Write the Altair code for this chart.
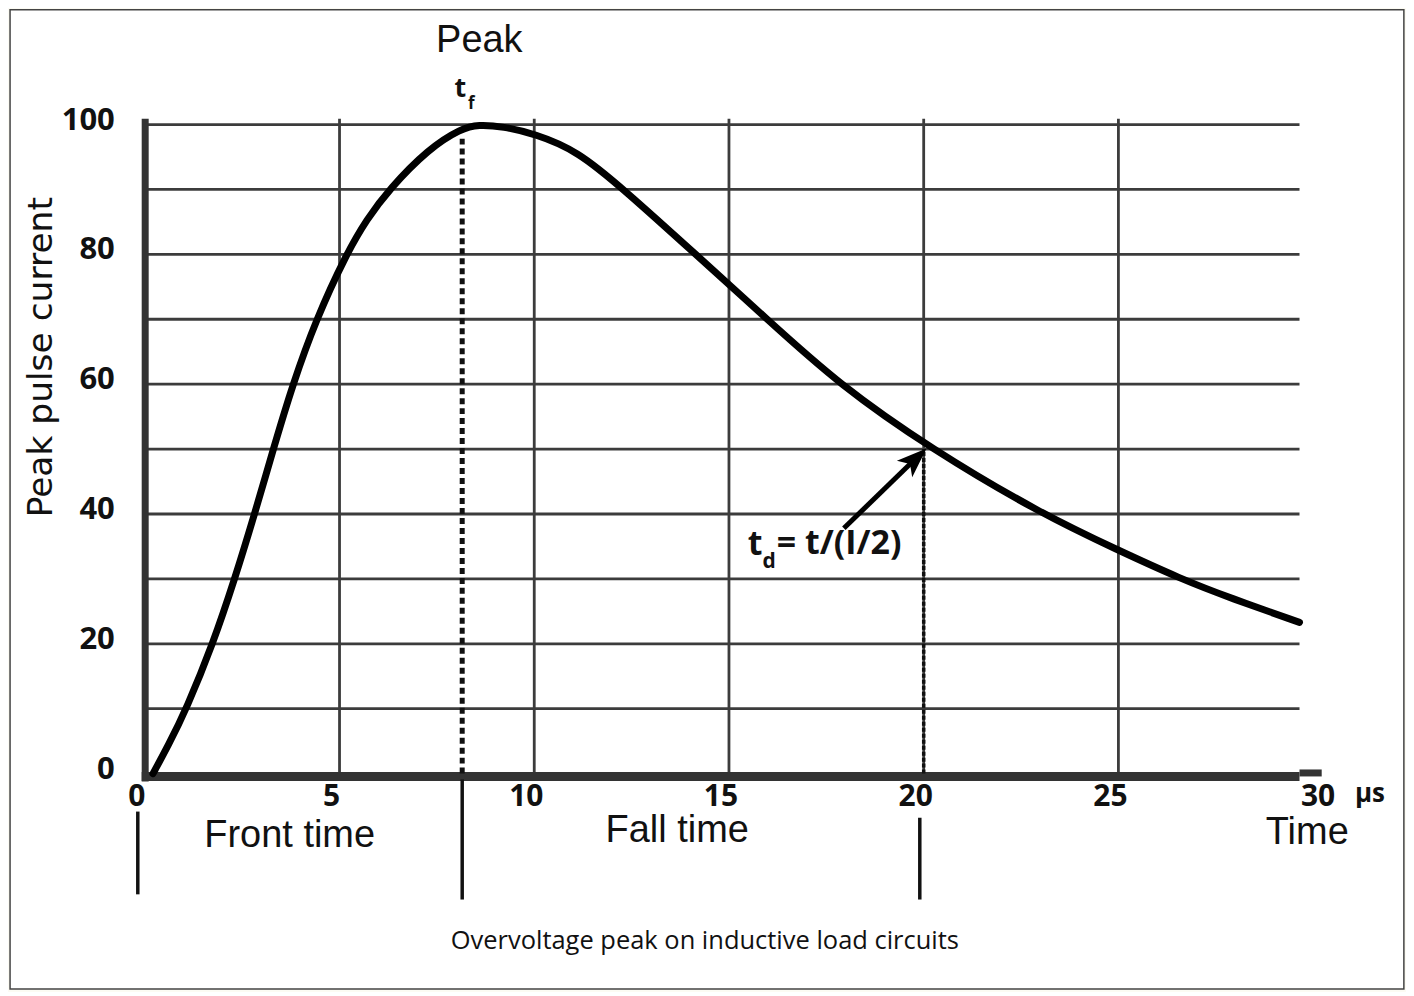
import altair as alt
import pandas as pd

# ---------------- data ----------------
curve_t = [0.21, 0.6, 1.07, 1.75, 2.31, 2.82, 3.3, 3.8, 4.4, 5.17, 5.7, 6.27, 7.29,
           8.13, 8.56, 9.2, 10.0, 11.1, 12.3, 14.15, 15.98, 17.82, 20.2, 23.03,
           25.0, 26.6, 27.9, 29.65]
curve_v = [0.0, 4.3, 10.0, 20.0, 30.0, 40.0, 50.0, 60.0, 70.0, 80.0, 85.4, 90.0, 96.3,
           99.4, 100.0, 99.7, 98.6, 96.0, 90.0, 80.0, 70.0, 60.0, 50.0, 40.0,
           34.4, 30.0, 27.0, 23.3]

y_tick_values = [0, 20, 40, 60, 80, 100]
x_tick_values = [0, 5, 10, 15, 20, 25]
x_last_tick = [30]
grid_y_values = [10, 20, 30, 40, 50, 60, 70, 80, 90, 100]
grid_x_values = [5, 10, 15, 20, 25]

peak_time = 8.15      # t_f marker
decay_time = 20.0     # t_d marker
decay_level = 50.0

section_labels = ["Front time", "Fall time", "Time"]
caption = "Overvoltage peak on inductive load circuits"
y_title = "Peak pulse current"

# ---------------- layout ----------------
W, H = 1170, 650
T_END = 29.65
xs = alt.Scale(domain=[0, 30], nice=False, zero=False)
ys = alt.Scale(domain=[0, 100], nice=False, zero=False)
X = lambda f="t": alt.X(f"{f}:Q", scale=xs, axis=None)
Y = lambda f="v": alt.Y(f"{f}:Q", scale=ys, axis=None)

GRID = "#3c3c3c"
INK = "#111111"
LBL_FONT = "Open Sans"
ANN_FONT = "Liberation Sans"

layers = []

# frame
frame = pd.DataFrame({"t": [-3.46], "t2": [32.33], "v": [117.7], "v2": [-33.2]})
layers.append(alt.Chart(frame).mark_rect(fill="white", stroke="#444", strokeWidth=1.5)
              .encode(x=X(), x2="t2:Q", y=Y(), y2="v2:Q"))

# horizontal grid
gy = pd.DataFrame({"v": grid_y_values, "t": [0] * len(grid_y_values), "t2": [T_END] * len(grid_y_values)})
layers.append(alt.Chart(gy).mark_rule(color=GRID, strokeWidth=2.8)
              .encode(x=X(), x2="t2:Q", y=Y()))

# vertical grid
gx = pd.DataFrame({"t": grid_x_values, "v": [0] * len(grid_x_values), "v2": [100.9] * len(grid_x_values)})
layers.append(alt.Chart(gx).mark_rule(color=GRID, strokeWidth=2.8)
              .encode(x=X(), y=Y(), y2="v2:Q"))

# axis lines
yaxis = pd.DataFrame({"t": [0.01], "v": [-1.2], "v2": [100.9]})
layers.append(alt.Chart(yaxis).mark_rule(color="#333", strokeWidth=7)
              .encode(x=X(), y=Y(), y2="v2:Q"))
xaxis = pd.DataFrame({"t": [-0.08], "t2": [T_END], "v": [-0.45]})
layers.append(alt.Chart(xaxis).mark_rule(color="#333", strokeWidth=9)
              .encode(x=X(), x2="t2:Q", y=Y()))
xstub = pd.DataFrame({"t": [T_END], "t2": [30.22], "v": [0.1]})
layers.append(alt.Chart(xstub).mark_rule(color="#333", strokeWidth=7)
              .encode(x=X(), x2="t2:Q", y=Y()))

# dashed markers
pk = pd.DataFrame({"t": [peak_time], "v": [0], "v2": [97.8]})
layers.append(alt.Chart(pk).mark_rule(color=INK, strokeWidth=5, strokeDash=[6, 4])
              .encode(x=X(), y=Y(), y2="v2:Q"))
td = pd.DataFrame({"t": [decay_time], "v": [0], "v2": [decay_level]})
layers.append(alt.Chart(td).mark_rule(color=INK, strokeWidth=3.5, strokeDash=[4, 2])
              .encode(x=X(), y=Y(), y2="v2:Q"))

# marker lines below the axis
mk = pd.DataFrame({"t": [-0.18, peak_time, 19.9], "v": [-5.85, -0.9, -6.8], "v2": [-18.6, -19.4, -19.4]})
layers.append(alt.Chart(mk).mark_rule(color=INK, strokeWidth=3.5)
              .encode(x=X(), y=Y(), y2="v2:Q"))

# curve
cv = pd.DataFrame({"t": curve_t, "v": curve_v})
layers.append(alt.Chart(cv).mark_line(color="#000", strokeWidth=7, interpolate="basis",
                                      strokeCap="round")
              .encode(x=X(), y=Y()))

# arrow
ar = pd.DataFrame({"t": [17.95], "t2": [19.79], "v": [37.8], "v2": [48.5]})
layers.append(alt.Chart(ar).mark_rule(color="#000", strokeWidth=5)
              .encode(x=X(), x2="t2:Q", y=Y(), y2="v2:Q"))
ah = pd.DataFrame({"t": [19.79], "v": [48.5]})
layers.append(alt.Chart(ah).mark_point(shape="M0,-1L0.75,1L0,0.5L-0.75,1Z", filled=True,
                                       color="#000", opacity=1, size=900, angle=47)
              .encode(x=X(), y=Y()))

# y tick labels
yt = pd.DataFrame({"v": y_tick_values, "t": [-0.77] * len(y_tick_values),
                   "lab": [str(v) for v in y_tick_values]})
layers.append(alt.Chart(yt).mark_text(font=LBL_FONT, fontSize=31, fontWeight="bold", color=INK,
                                      align="right", baseline="middle", dy=-4)
              .encode(x=X(), y=Y(), text="lab:N"))

# x tick labels
xt = pd.DataFrame({"t": x_tick_values, "v": [-3.6] * len(x_tick_values),
                   "lab": [str(v) for v in x_tick_values]})
layers.append(alt.Chart(xt).mark_text(font=LBL_FONT, fontSize=30, fontWeight="bold", color=INK,
                                      align="center", baseline="middle", dx=-8)
              .encode(x=X(), y=Y(), text="lab:N"))
xl = pd.DataFrame({"t": x_last_tick, "v": [-3.6], "lab": [str(v) for v in x_last_tick]})
layers.append(alt.Chart(xl).mark_text(font=LBL_FONT, fontSize=30, fontWeight="bold", color=INK,
                                      align="center", baseline="middle", dx=5)
              .encode(x=X(), y=Y(), text="lab:N"))
mu = pd.DataFrame({"t": [31.46], "v": [-3.2], "lab": ["µs"]})
layers.append(alt.Chart(mu).mark_text(font=LBL_FONT, fontSize=26, fontWeight="bold", color=INK,
                                      align="center", baseline="middle")
              .encode(x=X(), y=Y(), text="lab:N"))

# section labels
sl = pd.DataFrame({"t": [3.72, 13.67, 29.85], "v": [-9.6, -8.9, -9.1], "lab": section_labels})
layers.append(alt.Chart(sl).mark_text(font=ANN_FONT, fontSize=38, color=INK,
                                      align="center", baseline="middle")
              .encode(x=X(), y=Y(), text="lab:N"))

# Peak
pkl = pd.DataFrame({"t": [8.59], "v": [112.9], "lab": ["Peak"]})
layers.append(alt.Chart(pkl).mark_text(font=ANN_FONT, fontSize=38, color=INK,
                                       align="center", baseline="middle")
              .encode(x=X(), y=Y(), text="lab:N"))

# t_f
tf1 = pd.DataFrame({"t": [8.1], "v": [105.5], "lab": ["t"]})
layers.append(alt.Chart(tf1).mark_text(font=LBL_FONT, fontSize=27, fontWeight="bold", color=INK,
                                       align="center", baseline="middle")
              .encode(x=X(), y=Y(), text="lab:N"))
tf2 = pd.DataFrame({"t": [8.38], "v": [103.2], "lab": ["f"]})
layers.append(alt.Chart(tf2).mark_text(font=LBL_FONT, fontSize=17, fontWeight="bold", color=INK,
                                       align="center", baseline="middle")
              .encode(x=X(), y=Y(), text="lab:N"))

# t_d formula
td1 = pd.DataFrame({"t": [15.67], "v": [35.2], "lab": ["t"]})
layers.append(alt.Chart(td1).mark_text(font=LBL_FONT, fontSize=34, fontWeight="bold", color=INK,
                                       align="center", baseline="middle")
              .encode(x=X(), y=Y(), text="lab:N"))
td2 = pd.DataFrame({"t": [16.03], "v": [32.6], "lab": ["d"]})
layers.append(alt.Chart(td2).mark_text(font=LBL_FONT, fontSize=21, fontWeight="bold", color=INK,
                                       align="center", baseline="middle")
              .encode(x=X(), y=Y(), text="lab:N"))
td3 = pd.DataFrame({"t": [16.23], "v": [35.4], "lab": ["= t/(I/2)"]})
layers.append(alt.Chart(td3).mark_text(font=LBL_FONT, fontSize=34, fontWeight="bold", color=INK,
                                       align="left", baseline="middle")
              .encode(x=X(), y=Y(), text="lab:N"))

# y title
yl = pd.DataFrame({"t": [-2.64], "v": [64.15], "lab": [y_title]})
layers.append(alt.Chart(yl).mark_text(font="DejaVu Sans", fontSize=34.5, color=INK, angle=270,
                                      align="center", baseline="middle")
              .encode(x=X(), y=Y(), text="lab:N"))

# caption
cp = pd.DataFrame({"t": [14.38], "v": [-25.85], "lab": [caption]})
layers.append(alt.Chart(cp).mark_text(font=LBL_FONT, fontSize=25.5, color=INK,
                                      align="center", baseline="middle")
              .encode(x=X(), y=Y(), text="lab:N"))

chart = alt.layer(*layers).properties(
    width=W, height=H,
    autosize=alt.AutoSizeParams(type="none"),
    padding={"left": 137, "top": 116, "right": 93, "bottom": 218},
    background="#fcfbf3",
).configure_view(stroke=None)

chart.save("out.html", embed_options={"renderer": "svg", "actions": False})
